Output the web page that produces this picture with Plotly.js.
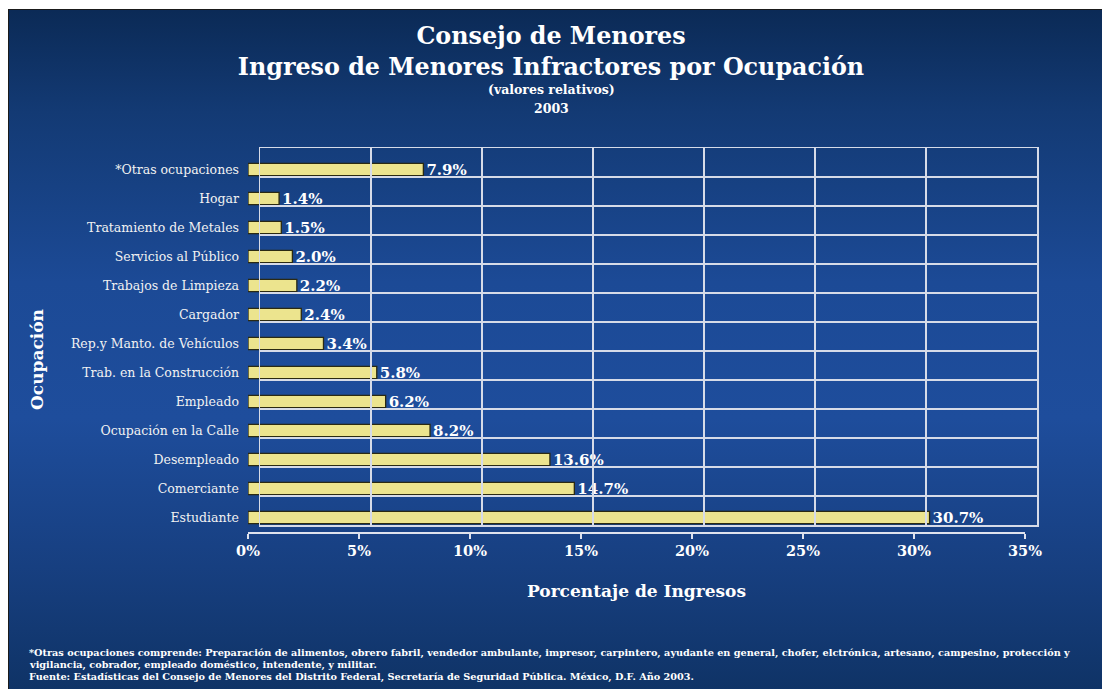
<!DOCTYPE html>
<html>
<head>
<meta charset="utf-8">
<script src="https://cdn.plot.ly/plotly-3.0.1.min.js"></script>
<style>
  html, body { margin:0; padding:0; background:#ffffff; width:1102px; height:689px; overflow:hidden; }
  #bg { position:absolute; left:8px; top:9px; width:1094px; height:680px;
        border-top:1px solid #1a1a1a; border-left:1px solid #1a1a1a;
        background: linear-gradient(to bottom, #0b2a56 0%, #133a74 15%, #1c4a96 40%, #1e4d9c 60%, #173f80 82%, #0f3366 100%); }
  #chart { position:absolute; left:0; top:0; width:1102px; height:689px; }
</style>
</head>
<body>
<div id="bg"></div>
<div id="chart"></div>
<script>
// ---- data ----
const categories = [
  "Estudiante", "Comerciante", "Desempleado", "Ocupación en la Calle", "Empleado",
  "Trab. en la Construcción", "Rep.y Manto. de Vehículos", "Cargador",
  "Trabajos de Limpieza", "Servicios al Público", "Tratamiento de Metales",
  "Hogar", "*Otras ocupaciones"
];
const values = [30.7, 14.7, 13.6, 8.2, 6.2, 5.8, 3.4, 2.4, 2.2, 2.0, 1.5, 1.4, 7.9];
const valueLabels = ["30.7%", "14.7%", "13.6%", "8.2%", "6.2%", "5.8%", "3.4%", "2.4%", "2.2%", "2.0%", "1.5%", "1.4%", "7.9%"];
const xTickVals = [0, 5, 10, 15, 20, 25, 30, 35];
const xTickText = ["0%", "5%", "10%", "15%", "20%", "25%", "30%", "35%"];
const rowBoundaries = [-0.5, 0.5, 1.5, 2.5, 3.5, 4.5, 5.5, 6.5, 7.5, 8.5, 9.5, 10.5, 11.5, 12.5];
const footnoteLines = [
  "*Otras ocupaciones comprende: Preparación de alimentos, obrero fabril, vendedor ambulante, impresor, carpintero, ayudante en general, chofer, elctrónica, artesano, campesino, protección y",
  "vigilancia, cobrador, empleado doméstico, intendente, y militar.",
  "Fuente: Estadísticas del Consejo de Menores del Distrito Federal, Secretaría de Seguridad Pública. México, D.F. Año 2003."
];

const W = 1102, H = 689;
const px = v => v / W;
const py = v => 1 - v / H;
const wide = "DejaVu Serif, serif";

const traces = [
  {
    type: "bar", orientation: "h",
    x: values, y: categories,
    xaxis: "x", yaxis: "y",
    width: 0.42,
    marker: { color: "#ece48e", line: { color: "#2b2a12", width: 1.3 } },
    text: valueLabels, textposition: "outside", constraintext: "none",
    textfont: { family: wide, size: 15, color: "#ffffff", weight: "bold" },
    cliponaxis: false,
    hoverinfo: "skip"
  },
  { type: "scatter", x: [], y: [], xaxis: "x2", yaxis: "y2", showlegend: false, hoverinfo: "skip" }
];

const layout = {
  width: W, height: H,
  paper_bgcolor: "rgba(0,0,0,0)", plot_bgcolor: "rgba(0,0,0,0)",
  margin: { l: 0, r: 0, t: 0, b: 0 },
  showlegend: false,
  bargap: 0.5,
  title: {
    text: "Consejo de Menores<br>Ingreso de Menores Infractores por Ocupación",
    font: { family: wide, size: 23.8, color: "#ffffff", weight: "bold" },
    x: 0.5, xanchor: "center", y: 1 - 44 / H, yanchor: "top", yref: "paper"
  },
  xaxis: {
    domain: [px(248), px(1025)], range: [0, 35], anchor: "y",
    tickvals: xTickVals, ticktext: xTickText,
    tickfont: { family: wide, size: 14.5, color: "#ffffff", weight: "bold" },
    showgrid: false, zeroline: false,
    showline: true, linecolor: "#dfe3ee", linewidth: 1.5,
    ticks: "outside", ticklen: 5, tickcolor: "#dfe3ee", tickwidth: 1.5,
    automargin: false,
    title: { text: "Porcentaje de Ingresos", font: { family: wide, size: 17, color: "#ffffff", weight: "bold" }, standoff: 27 }
  },
  yaxis: {
    domain: [py(532), py(155)], anchor: "x",
    type: "category", categoryorder: "array", categoryarray: categories,
    range: [-0.5, 12.5],
    tickfont: { family: wide, size: 12.5, color: "#f2f2f2" },
    ticklabelstandoff: 8,
    showgrid: false, zeroline: false, showline: false, ticks: "",
    automargin: false
  },
  xaxis2: {
    domain: [px(260), px(1037)], range: [0, 35], anchor: "y2",
    tickvals: xTickVals, showticklabels: false, ticks: "",
    showgrid: true, gridcolor: "#d6dbe8", gridwidth: 1.5,
    showline: true, linecolor: "#d6dbe8", linewidth: 1.5, mirror: true,
    zeroline: false, automargin: false
  },
  yaxis2: {
    domain: [py(525), py(148)], range: [-0.5, 12.5], anchor: "x2",
    tickvals: rowBoundaries, showticklabels: false, ticks: "",
    showgrid: true, gridcolor: "#d6dbe8", gridwidth: 1.5,
    showline: true, linecolor: "#d6dbe8", linewidth: 1.5, mirror: true,
    zeroline: false, automargin: false
  },
  annotations: [
    { text: "Ocupación", xref: "paper", yref: "paper", x: px(37), y: py(360), xanchor: "center", yanchor: "middle",
      textangle: -90, showarrow: false, font: { family: wide, size: 17, color: "#ffffff", weight: "bold" } },
    { text: "(valores relativos)", xref: "paper", yref: "paper", x: 0.5, y: py(89), xanchor: "center", yanchor: "middle",
      showarrow: false, font: { family: wide, size: 12.5, color: "#ffffff", weight: "bold" } },
    { text: "2003", xref: "paper", yref: "paper", x: 0.5, y: py(108), xanchor: "center", yanchor: "middle",
      showarrow: false, font: { family: wide, size: 12.5, color: "#ffffff", weight: "bold" } },
    { text: footnoteLines[0], xref: "paper", yref: "paper", x: px(27), y: py(652), xanchor: "left", yanchor: "middle",
      showarrow: false, font: { family: wide, size: 9.7, color: "#ffffff", weight: "bold" } },
    { text: footnoteLines[1], xref: "paper", yref: "paper", x: px(27), y: py(664), xanchor: "left", yanchor: "middle",
      showarrow: false, font: { family: wide, size: 9.7, color: "#ffffff", weight: "bold" } },
    { text: footnoteLines[2], xref: "paper", yref: "paper", x: px(27), y: py(676), xanchor: "left", yanchor: "middle",
      showarrow: false, font: { family: wide, size: 9.7, color: "#ffffff", weight: "bold" } }
  ]
};

Plotly.newPlot("chart", traces, layout, { displayModeBar: false, staticPlot: true });
</script>
</body>
</html>
